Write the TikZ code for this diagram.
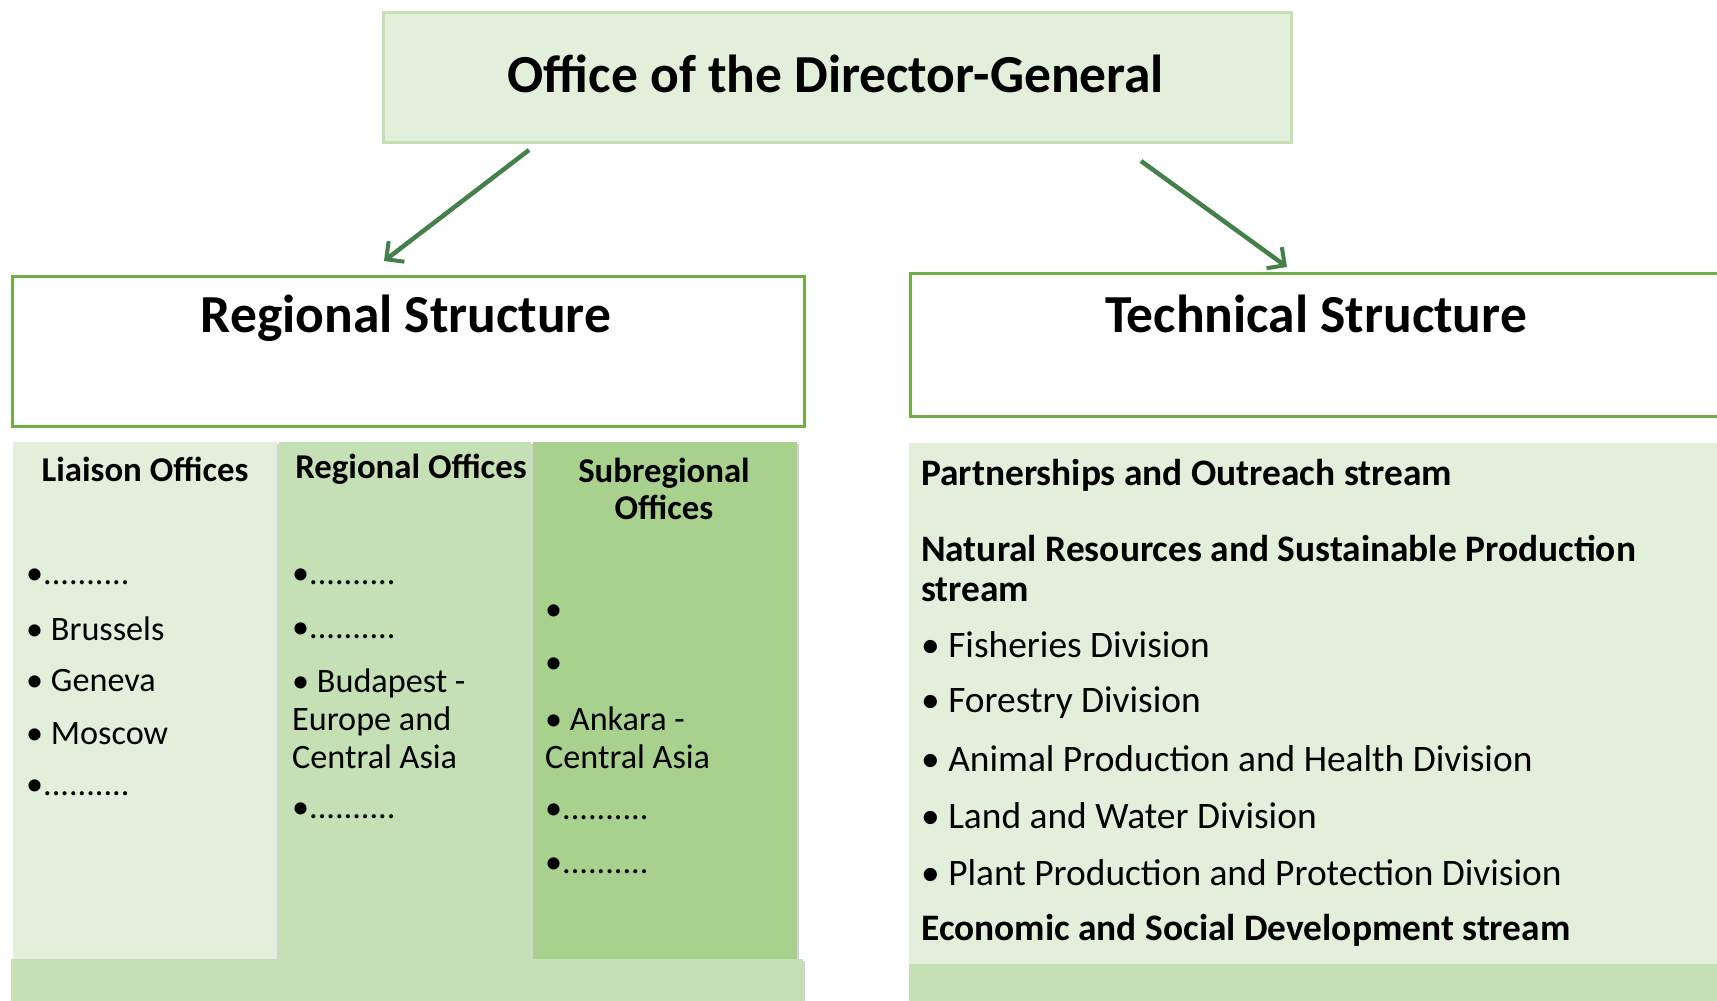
\documentclass[tikz,border=0pt]{standalone}
\usepackage{fontspec}
\setmainfont{Carlito}
\usetikzlibrary{arrows.meta,shadows}

\definecolor{palegreen}{HTML}{E2EFDA}
\definecolor{midgreen}{HTML}{C5E0B4}
\definecolor{deepgreen}{HTML}{A9D18E}
\definecolor{edgegreen}{HTML}{70AD47}
\definecolor{arrowgreen}{HTML}{43804A}

\begin{document}
\begin{tikzpicture}[x=1pt,y=-1pt]
        \tikzstyle{every node}+=[inner sep=0pt]
        \tikzstyle{panel}=[anchor=north west,drop shadow={shadow xshift=1.5pt,shadow yshift=-1.5pt,opacity=.35}]
        \tikzstyle{title}=[font=\fontsize{53.5}{60}\selectfont\bfseries]
        \tikzstyle{colhead}=[align=center,font=\fontsize{34.8}{37}\selectfont\bfseries]
        \tikzstyle{entry}=[anchor=west,align=left,font=\fontsize{34.2}{38}\selectfont]
        \tikzstyle{division}=[anchor=west,font=\fontsize{37.4}{40}\selectfont]
        \tikzstyle{stream}=[anchor=west,align=left,font=\fontsize{37.4}{40}\selectfont\bfseries]
        \tikzstyle{link}=[arrowgreen,line width=4.5pt,-{Straight Barb[length=13pt,width=26pt,line width=4pt]}]
        \useasboundingbox (0,0) rectangle (1717,1001);
        % top box
        \node [anchor=north west,draw=midgreen,fill=palegreen,line width=3pt,minimum width=908pt,minimum height=130pt] (dgbox) at (382,11) {};
        \node [title] (dg) at (836,74) {Office of the Director-General};
        % the two structures
        \node [anchor=north west,draw=edgegreen,fill=white,line width=2.5pt,minimum width=792pt,minimum height=150pt] (regbox) at (11,275) {};
        \node [title] (reg) at (406,318) {Regional Structure};
        \node [anchor=north west,draw=edgegreen,fill=white,line width=2.5pt,minimum width=830pt,minimum height=143pt] (techbox) at (909,272) {};
        \node [title] (tech) at (1316,314) {Technical Structure};
        \coordinate (a1) at (529,150);
        \coordinate (a2) at (384,261);
        \coordinate (b1) at (1141,161);
        \coordinate (b2) at (1287,267);
        \draw [link] (a1) -- (a2);
        \draw [link] (b1) -- (b2);
        % regional columns
        \node [panel,fill=palegreen,minimum width=264pt,minimum height=517pt] (liaison) at (13,442) {};
        \node [panel,fill=midgreen,minimum width=252pt,minimum height=517pt] (regional) at (279,442) {};
        \node [panel,fill=deepgreen,minimum width=264pt,minimum height=517pt] (subregional) at (533,442) {};
        \node [panel,fill=midgreen,minimum width=792pt,minimum height=44pt] (regfoot) at (11,959) {};
        \node [colhead] (lohead) at (145,469) {Liaison Offices};
        \node [colhead] (rohead) at (411,469) {Regional Offices};
        \node [colhead] (sohead) at (664,489) {Subregional\\Offices};
        \node [entry] (lo1) at (26,577) {•..........};
        \node [entry] (lo2) at (26,629) {• Brussels};
        \node [entry] (lo3) at (26,681) {• Geneva};
        \node [entry] (lo4) at (26,734) {• Moscow};
        \node [entry] (lo5) at (26,788) {•..........};
        \node [entry] (ro1) at (292,577) {•..........};
        \node [entry] (ro2) at (292,631) {•..........};
        \node [entry] (ro3) at (292,719) {• Budapest -\\Europe and\\Central Asia};
        \node [entry] (ro4) at (292,811) {•..........};
        \node [entry] (so1) at (545,613) {•};
        \node [entry] (so2) at (545,666) {•};
        \node [entry] (so3) at (545,738) {• Ankara -\\Central Asia};
        \node [entry] (so4) at (545,812) {•..........};
        \node [entry] (so5) at (545,866) {•..........};
        % technical panel
        \node [panel,fill=palegreen,minimum width=830pt,minimum height=521pt] (techpanel) at (909,443) {};
        \node [panel,fill=midgreen,minimum width=830pt,minimum height=40pt] (techfoot) at (909,964) {};
        \node [stream] (st1) at (921,475) {Partnerships and Outreach stream};
        \node [stream] (st2) at (921,568) {Natural Resources and Sustainable Production\\stream};
        \node [division] (dv1) at (921,645) {• Fisheries Division};
        \node [division] (dv2) at (921,703) {• Forestry Division};
        \node [division] (dv3) at (921,759) {• Animal Production and Health Division};
        \node [division] (dv4) at (921,816) {• Land and Water Division};
        \node [division] (dv5) at (921,873) {• Plant Production and Protection Division};
        \node [stream] (st3) at (921,930) {Economic and Social Development stream};
    \end{tikzpicture}
\end{document}
